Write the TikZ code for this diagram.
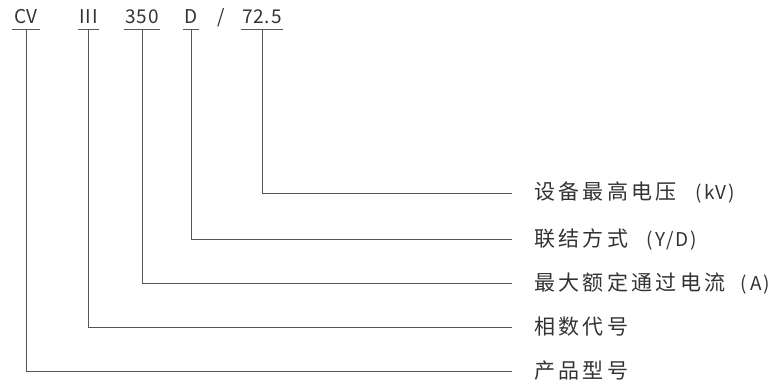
\documentclass[tikz,border=0pt]{standalone}
\usepackage{fontspec}
\setmainfont{Noto Sans CJK SC}
\newfontfamily\cjkf{Noto Sans CJK SC}[LetterSpace=16]
\newfontfamily\latf{Noto Sans CJK SC}[LetterSpace=4]
\usetikzlibrary{calc}
\definecolor{ink}{HTML}{333333}
\definecolor{ln}{HTML}{555555}
\newcommand{\cj}[1]{{\cjkf\fontsize{21}{21}\selectfont #1}}
\newcommand{\lt}[1]{{\latf\fontsize{19}{19}\selectfont #1}}
\newcommand{\pl}{\hspace{18pt}\lt{(}\hspace{3pt}}
\newcommand{\pr}{\hspace{2pt}\lt{)}}
\tikzset{
  code/.style={anchor=base, inner xsep=1.5pt, inner ysep=0pt, text=ink, font=\latf\fontsize{19}{19}\selectfont},
  lab/.style={anchor=west, inner sep=0pt, text=ink},
  wire/.style={draw=ln, line width=1pt},
}
\begin{document}
\begin{tikzpicture}[x=1pt,y=-1pt]
\useasboundingbox (0,0) rectangle (783,385);
% codes
\node[code] (cv) at (26,24) {CV};
\node[code] (ph) at (88.5,24) {III};
\node[code] (cur) at (142,24) {350};
\node[code] (con) at (191,24) {D};
\node[code, inner xsep=0pt] (sl) at (221,24) {/};
\node[code] (vol) at (262,24) {72.5};
% underlines
\foreach \n in {cv,ph,cur,con,vol}{
  \draw[wire] ($(\n.base west)+(0,5.5)$) -- ($(\n.base east)+(0,5.5)$);
  \coordinate (\n U) at ($(\n.base)+(0,5.5)$);
}
% labels
\node[lab] (l1) at (534,193) {\cj{设备最高电压}\pl\lt{kV}\pr};
\node[lab] (l2) at (534,239) {\cj{联结方式}\pl\lt{Y}\hspace{1pt}\lt{/}\hspace{1pt}\lt{D}\pr};
\node[lab] (l3) at (534,283) {\cj{最大额定通过电流}\hspace{-3pt}\pl\lt{A}\pr};
\node[lab] (l4) at (534,327) {\cj{相数代号}};
\node[lab] (l5) at (534,371) {\cj{产品型号}};
% connectors
\draw[wire, shorten >=22pt] (volU) |- (l1.west);
\draw[wire, shorten >=22pt] (conU) |- (l2.west);
\draw[wire, shorten >=22pt] (curU) |- (l3.west);
\draw[wire, shorten >=22pt] (phU) |- (l4.west);
\draw[wire, shorten >=22pt] (cvU) |- (l5.west);
\end{tikzpicture}
\end{document}
